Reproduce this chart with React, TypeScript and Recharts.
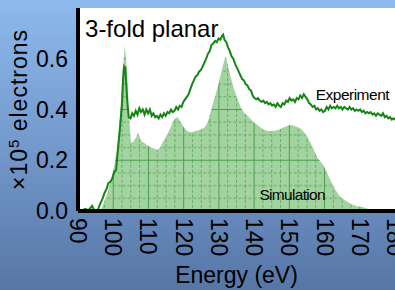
import React from "react";
import {
  ComposedChart,
  Area,
  Line,
  XAxis,
  YAxis,
  CartesianGrid,
  ReferenceDot,
  Label,
} from "recharts";

// Axis ticks
const X_TICKS = [90, 100, 110, 120, 130, 140, 150, 160, 170, 180];
const Y_TICKS = [0, 0.2, 0.4, 0.6];

// Experiment trace (energy in eV, value in 1e5 electrons)
const EXP_E = [
  90, 91, 92, 93, 94, 94.5, 95.5, 96.2, 97, 97.5, 98.2, 98.6, 99.2, 99.8, 100.3, 100.8,
  101.2, 101.6, 102, 102.5, 102.8, 103.1, 103.4, 103.7, 104, 104.4, 104.9, 105.4, 105.9,
  106.4, 106.9, 107.4, 107.9, 108.4, 108.9, 109.4, 109.9, 110.4, 110.9, 111.4, 111.9,
  112.4, 112.9, 113.4, 113.9, 114.4, 114.9, 115.4, 115.9, 116.4, 116.9, 117.4, 117.9,
  118.4, 118.9, 119.4, 119.9, 120.4, 120.9, 121.4, 121.9, 122.4, 122.9, 123.4, 123.9,
  124.4, 124.9, 125.4, 125.9, 126.4, 126.9, 127.4, 127.9, 128.4, 128.9, 129.4, 129.9,
  130.4, 130.9, 131.2, 131.6, 132.1, 132.6, 133.1, 133.6, 134.1, 134.6, 135.1, 135.6,
  136.1, 136.6, 137.1, 137.6, 138.1, 138.6, 139.1, 139.6, 140.1, 140.6, 141.1, 141.6,
  142.1, 142.6, 143.1, 143.6, 144.1, 144.6, 145.1, 145.6, 146.1, 146.6, 147.1, 147.6,
  148.1, 148.6, 149.1, 149.6, 150.1, 150.6, 151.1, 151.6, 152.1, 152.6, 153.1, 153.6,
  154.1, 154.6, 155.1, 155.6, 156.1, 156.6, 157.1, 157.6, 158.1, 158.6, 159.1, 159.6,
  160.1, 160.6, 161.1, 161.6, 162.1, 162.6, 163.1, 163.6, 164.1, 164.6, 165.1, 165.6,
  166.1, 166.6, 167.1, 167.6, 168.1, 168.6, 169.1, 169.6, 170.1, 170.6, 171.1, 171.6,
  172.1, 172.6, 173.1, 173.6, 174.1, 174.6, 175.1, 175.6, 176.1, 176.6, 177.1, 177.6,
  178.1, 178.6, 179.1, 179.6, 180,
];
const EXP_V = [
  0.005, 0.0, 0.008, 0.003, 0.02, 0.005, 0.0, 0.025, 0.05, 0.07, 0.09, 0.11, 0.115, 0.13, 0.155, 0.16,
  0.22, 0.28, 0.34, 0.42, 0.52, 0.57, 0.565, 0.5, 0.43, 0.37, 0.365, 0.385, 0.375,
  0.395, 0.38, 0.405, 0.39, 0.4, 0.38, 0.4, 0.385, 0.4, 0.375, 0.385, 0.37,
  0.375, 0.365, 0.38, 0.37, 0.385, 0.375, 0.39, 0.385, 0.4, 0.39, 0.395, 0.41,
  0.4, 0.415, 0.41, 0.43, 0.44, 0.45, 0.46, 0.48, 0.5, 0.515, 0.53, 0.535,
  0.55, 0.555, 0.57, 0.585, 0.6, 0.62, 0.63, 0.655, 0.66, 0.67, 0.665, 0.68,
  0.675, 0.69, 0.695, 0.675, 0.665, 0.645, 0.63, 0.61, 0.6, 0.58, 0.565, 0.55,
  0.535, 0.52, 0.515, 0.5, 0.495, 0.48, 0.475, 0.455, 0.445, 0.44, 0.445, 0.435,
  0.43, 0.435, 0.425, 0.43, 0.42, 0.425, 0.415, 0.42, 0.41, 0.425, 0.415, 0.41,
  0.425, 0.42, 0.435, 0.43, 0.445, 0.435, 0.44, 0.43, 0.445, 0.44, 0.455, 0.445,
  0.46, 0.45, 0.44, 0.425, 0.42, 0.41, 0.415, 0.4, 0.405, 0.395, 0.4, 0.39,
  0.395, 0.41, 0.4, 0.415, 0.405, 0.41, 0.405, 0.415, 0.405, 0.41, 0.4, 0.41,
  0.405, 0.4, 0.41, 0.4, 0.405, 0.395, 0.4, 0.395, 0.4, 0.39, 0.395, 0.385,
  0.39, 0.385, 0.39, 0.38, 0.385, 0.375, 0.385, 0.38, 0.375, 0.385, 0.37, 0.375,
  0.365, 0.37, 0.36, 0.365, 0.36,
];

// Simulation curve (filled)
const SIM_E = [
  90, 96.2, 97.1, 98.2, 99.3, 100.2, 101, 101.6, 102.2, 102.7, 103.3, 103.9, 104.4, 105,
  105.5, 106, 106.5, 107, 107.5, 108, 108.7, 109.5, 110.7, 111.7, 112.7, 113.5, 114.2,
  114.9, 116, 116.9, 117.6, 118.3, 119, 120, 121, 122, 123.4, 124.8, 126, 126.8, 127.5,
  128.2, 129, 129.7, 130.5, 131.1, 131.9, 132.6, 133.3, 134.3, 135.3, 136.2, 137, 138.5,
  139.9, 141.3, 142.7, 144, 145.5, 147, 148.4, 149.4, 150.3, 151.5, 153.2, 154.2, 155.2,
  156.5, 158, 159.7, 160.7, 161.7, 163, 164.5, 166, 167.3, 169, 171, 172.5, 173.9, 180,
];
const SIM_V = [
  0, 0, 0.025, 0.065, 0.12, 0.17, 0.24, 0.32, 0.44, 0.56, 0.65, 0.56, 0.4, 0.27,
  0.27, 0.28, 0.29, 0.31, 0.29, 0.275, 0.27, 0.26, 0.25, 0.245, 0.24, 0.255, 0.275,
  0.29, 0.32, 0.35, 0.365, 0.37, 0.355, 0.33, 0.315, 0.31, 0.315, 0.32, 0.33, 0.35, 0.38,
  0.42, 0.455, 0.49, 0.535, 0.57, 0.61, 0.57, 0.53, 0.48, 0.44, 0.41, 0.39, 0.37,
  0.35, 0.335, 0.32, 0.315, 0.315, 0.32, 0.33, 0.335, 0.34, 0.335, 0.325, 0.31, 0.29,
  0.255, 0.21, 0.18, 0.15, 0.12, 0.085, 0.055, 0.04, 0.03, 0.02, 0.015, 0.008, 0, 0,
];

const W = 395;
const H = 290;
const MARGIN = { top: 8, right: 0, bottom: 0, left: 0 };
const Y_AXIS_W = 78;
const X_AXIS_H = 79;
const X_DOMAIN: [number, number] = [90, 180];
const Y_DOMAIN: [number, number] = [0, 0.8];
const FONT = "'Liberation Sans', Arial, sans-serif";

// pattern tile follows the plot scale: 10 eV x 0.2 units per major cell
const plotLeft = MARGIN.left + Y_AXIS_W;
const plotBottom = H - MARGIN.bottom - X_AXIS_H;
const pxPerEv = (W - plotLeft - MARGIN.right) / (X_DOMAIN[1] - X_DOMAIN[0]);
const pxPerUnit = (plotBottom - MARGIN.top) / (Y_DOMAIN[1] - Y_DOMAIN[0]);
const tileW = pxPerEv * 10;
const tileH = pxPerUnit * 0.2;

const rows = [
  ...EXP_E.map((e, i) => ({ e, exp: EXP_V[i] })),
  ...SIM_E.map((e, i) => ({ e, sim: SIM_V[i] })),
].sort((a, b) => a.e - b.e);

const GridPattern = () => (
  <svg width={0} height={0} style={{ position: "absolute" }}>
    <defs>
      <pattern
        id="simGrid"
        patternUnits="userSpaceOnUse"
        x={plotLeft - 0.5}
        y={plotBottom - 0.5}
        width={tileW}
        height={tileH}
      >
        <rect width={tileW} height={tileH} fill="#a3d3a0" />
        {[1, 2, 3].map((i) => (
          <line
            key={"v" + i}
            x1={0.5 + (i * tileW) / 4}
            x2={0.5 + (i * tileW) / 4}
            y1={0}
            y2={tileH}
            stroke="#62ae62"
            strokeDasharray="3 2"
          />
        ))}
        {[1, 2, 3].map((i) => (
          <line
            key={"h" + i}
            y1={0.5 + (i * tileH) / 4}
            y2={0.5 + (i * tileH) / 4}
            x1={0}
            x2={tileW}
            stroke="#62ae62"
            strokeDasharray="3 2"
          />
        ))}
        <line x1={0.5} x2={0.5} y1={0} y2={tileH} stroke="#4e9e4e" />
        <line y1={0.5} y2={0.5} x1={0} x2={tileW} stroke="#4e9e4e" />
      </pattern>
    </defs>
  </svg>
);

const RotTick = (props: any) => {
  const { x, y, payload } = props;
  return (
    <text
      x={x}
      y={y}
      transform={`rotate(90, ${x}, ${y})`}
      textAnchor="start"
      dominantBaseline="central"
      fontSize={23}
      fontFamily={FONT}
      fill="#000"
    >
      {payload.value}
    </text>
  );
};

const YTitle = (props: any) => {
  const { viewBox } = props;
  const bx = viewBox.x + 27;
  const cy = viewBox.y + viewBox.height / 2;
  return (
    <text
      x={bx}
      y={cy}
      transform={`rotate(-90, ${bx}, ${cy})`}
      textAnchor="middle"
      fontFamily={FONT}
      fontSize={23}
      letterSpacing={1}
      fill="#000"
    >
      <tspan>×10</tspan>
      <tspan dy={-8} fontSize={15}>5</tspan>
      <tspan dy={8}> electrons</tspan>
    </text>
  );
};

const note =
  (text: string, size: number, anchor: "start" | "middle", spacing = 0) =>
  (p: any) =>
    (
      <text
        x={p.cx}
        y={p.cy}
        textAnchor={anchor}
        fontFamily={FONT}
        fontSize={size}
        letterSpacing={spacing}
        fill="#000"
      >
        {text}
      </text>
    );

export default function App() {
  return (
    <div
      style={{
        position: "absolute",
        left: 0,
        top: 0,
        width: W,
        height: H,
        overflow: "hidden",
        background: "linear-gradient(180deg, #8db9ec 0%, #7499cd 50%, #5676a6 100%)",
      }}
    >
      <GridPattern />
      <ComposedChart width={W} height={H} data={rows} margin={MARGIN}>
        <CartesianGrid fill="#ffffff" horizontal={false} vertical={false} />
        <XAxis
          type="number"
          dataKey="e"
          domain={X_DOMAIN}
          ticks={X_TICKS}
          interval={0}
          allowDataOverflow
          height={X_AXIS_H}
          tickLine={false}
          tickMargin={1}
          axisLine={{ stroke: "#000", strokeWidth: 4 }}
          tick={<RotTick />}
        >
          <Label
            value="Energy (eV)"
            position="insideBottom"
            offset={7}
            style={{ fontSize: 23, fontFamily: FONT, fill: "#000" }}
          />
        </XAxis>
        <YAxis
          type="number"
          domain={Y_DOMAIN}
          ticks={Y_TICKS}
          width={Y_AXIS_W}
          tickLine={false}
          tickMargin={4}
          tickFormatter={(v: number) => v.toFixed(1)}
          axisLine={{ stroke: "#000", strokeWidth: 4 }}
          tick={{ fontSize: 23, fontFamily: FONT, fill: "#000" }}
        >
          <Label content={<YTitle />} />
        </YAxis>
        <Area
          type="linear"
          dataKey="sim"
          fill="url(#simGrid)"
          fillOpacity={1}
          stroke="none"
          connectNulls
          dot={false}
          activeDot={false}
          isAnimationActive={false}
        />
        <Line
          type="linear"
          dataKey="exp"
          stroke="#168516"
          strokeWidth={2}
          connectNulls
          dot={false}
          activeDot={false}
          isAnimationActive={false}
        />
        <ReferenceDot x={92} y={0.686} r={0} shape={note("3-fold planar", 24, "start")} />
        <ReferenceDot x={167.9} y={0.437} r={0} shape={note("Experiment", 15.5, "middle", -0.5)} />
        <ReferenceDot x={150.8} y={0.043} r={0} shape={note("Simulation", 15.5, "middle", -0.7)} />
      </ComposedChart>
    </div>
  );
}
